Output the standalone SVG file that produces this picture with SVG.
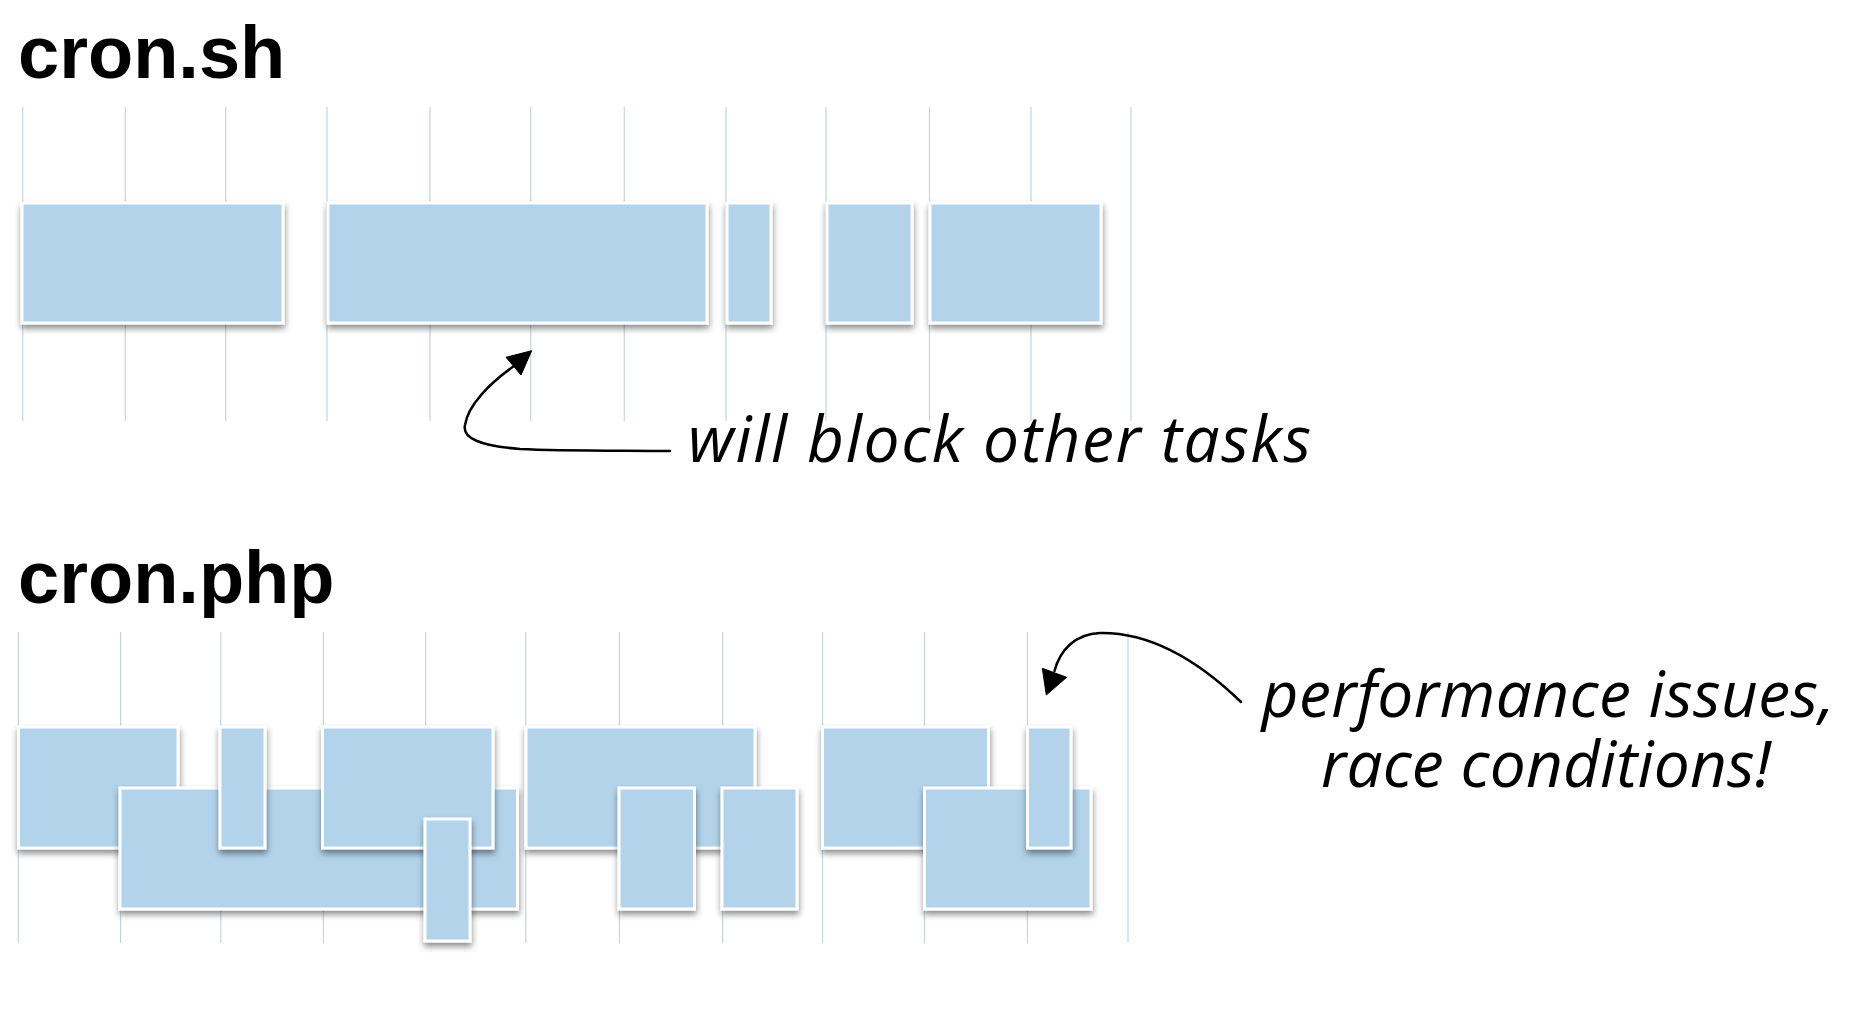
<svg xmlns="http://www.w3.org/2000/svg" width="1876" height="1010" viewBox="0 0 1876 1010">
  <defs>
    <filter id="shadow" x="-20%" y="-20%" width="140%" height="150%">
      <feDropShadow dx="0.5" dy="4" stdDeviation="3" flood-color="#000" flood-opacity="0.45"/>
    </filter>
  </defs>
  <style>
    .grid line { stroke: #c7d4df; stroke-width: 1.2; }
    .task { fill: #b3d3ea; stroke: #ffffff; stroke-width: 3; filter: url(#shadow); }
    .title { font-family: "Liberation Sans", Arial, sans-serif; font-weight: bold; font-size: 74px; fill: #000; }
    .note { font-family: "Open Sans", "DejaVu Sans", sans-serif; font-style: italic; font-size: 64px; fill: #000; }
    .conn path { fill: none; stroke: #000; stroke-width: 2.5; stroke-linecap: round; }
    .conn polygon { fill: #000; stroke: #000; stroke-width: 1; stroke-linejoin: round; }
  </style>
  <rect width="1876" height="1010" fill="#ffffff"/>

  <!-- cron.sh section -->
  <text id="title-cron-sh" class="title" x="18" y="78">cron.sh</text>
  <g class="grid" id="grid-top">
    <line x1="22.7" y1="107" x2="22.7" y2="421"/>
    <line x1="125.3" y1="107" x2="125.3" y2="421"/>
    <line x1="225.7" y1="107" x2="225.7" y2="421"/>
    <line x1="327" y1="107" x2="327" y2="421"/>
    <line x1="430" y1="107" x2="430" y2="421"/>
    <line x1="530.7" y1="107" x2="530.7" y2="421"/>
    <line x1="624.3" y1="107" x2="624.3" y2="421"/>
    <line x1="726" y1="107" x2="726" y2="421"/>
    <line x1="826" y1="107" x2="826" y2="421"/>
    <line x1="929.5" y1="107" x2="929.5" y2="421"/>
    <line x1="1031" y1="107" x2="1031" y2="421"/>
    <line x1="1131" y1="107" x2="1131" y2="421"/>
  </g>
  <g id="sh-task-1"><rect class="task" x="22" y="203" width="261" height="120"/></g>
  <g id="sh-task-2"><rect class="task" x="328" y="203" width="379" height="120"/></g>
  <g id="sh-task-3"><rect class="task" x="727" y="203" width="44" height="120"/></g>
  <g id="sh-task-4"><rect class="task" x="827" y="203" width="85" height="120"/></g>
  <g id="sh-task-5"><rect class="task" x="930" y="203" width="171" height="120"/></g>

  <!-- cron.php section -->
  <text id="title-cron-php" class="title" x="18" y="603">cron.php</text>
  <g class="grid" id="grid-bottom">
    <line x1="18.4" y1="632" x2="18.4" y2="943"/>
    <line x1="120.6" y1="632" x2="120.6" y2="943"/>
    <line x1="220.8" y1="632" x2="220.8" y2="943"/>
    <line x1="323.4" y1="632" x2="323.4" y2="943"/>
    <line x1="425.6" y1="632" x2="425.6" y2="943"/>
    <line x1="525.8" y1="632" x2="525.8" y2="943"/>
    <line x1="619.4" y1="632" x2="619.4" y2="943"/>
    <line x1="722.6" y1="632" x2="722.6" y2="943"/>
    <line x1="822.5" y1="632" x2="822.5" y2="943"/>
    <line x1="924.5" y1="632" x2="924.5" y2="943"/>
    <line x1="1027.4" y1="632" x2="1027.4" y2="943"/>
    <line x1="1128" y1="632" x2="1128" y2="943"/>
  </g>
  <g id="php-task-a"><rect class="task" x="18.5" y="727" width="159.5" height="121"/></g>
  <g id="php-task-b"><rect class="task" x="120" y="788" width="397.5" height="121"/></g>
  <g id="php-task-c"><rect class="task" x="220" y="727" width="45" height="121"/></g>
  <g id="php-task-d"><rect class="task" x="322.5" y="727" width="170.5" height="121"/></g>
  <g id="php-task-e"><rect class="task" x="425" y="819" width="45" height="122"/></g>
  <g id="php-task-f"><rect class="task" x="526" y="727" width="229" height="121"/></g>
  <g id="php-task-g"><rect class="task" x="619" y="788" width="75.5" height="121"/></g>
  <g id="php-task-h"><rect class="task" x="722" y="788" width="75" height="121"/></g>
  <g id="php-task-i"><rect class="task" x="822.5" y="727" width="166" height="121"/></g>
  <g id="php-task-j"><rect class="task" x="924.5" y="788" width="166.5" height="121"/></g>
  <g id="php-task-k"><rect class="task" x="1027.5" y="727" width="43.5" height="121"/></g>

  <!-- connectors -->
  <g class="conn" id="connectors">
    <g id="arrow-block">
      <path d="M 670 451 C 620 450.5, 560 451, 520 449 C 480 446, 462 438, 465 425 C 468 405, 490 383, 514 366"/>
      <polygon points="531.7,350.7 506,357.3 521,375"/>
    </g>
    <g id="arrow-race">
      <path d="M 1241 702 C 1210 672, 1160 632, 1100 633 C 1075 634, 1060 650, 1054.5 671"/>
      <polygon points="1046.3,695 1042.3,668.3 1066.7,677.3"/>
    </g>
  </g>

  <!-- annotations -->
  <text id="label-block" class="note" x="688" y="462" textLength="623" lengthAdjust="spacing">will block other tasks</text>
  <g id="label-race">
    <text class="note" x="1548" y="717" text-anchor="middle" textLength="573" lengthAdjust="spacing">performance issues,</text>
    <text class="note" x="1546" y="787" text-anchor="middle" textLength="450" lengthAdjust="spacing">race conditions!</text>
  </g>
</svg>
